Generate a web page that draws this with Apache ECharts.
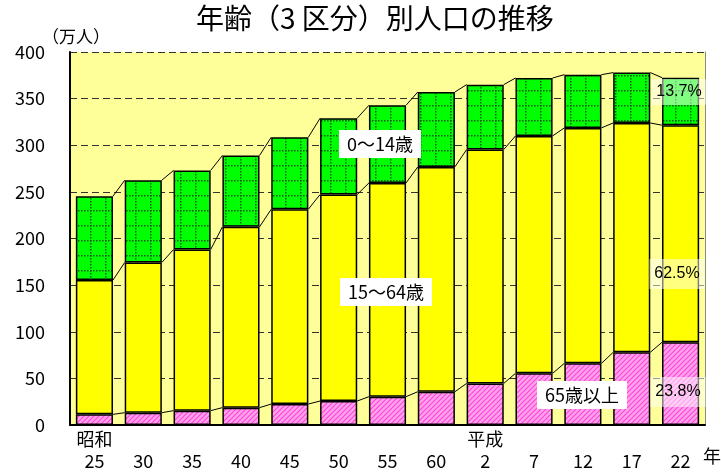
<!DOCTYPE html>
<html>
<head>
<meta charset="utf-8">
<script src="https://cdn.jsdelivr.net/npm/echarts@6/dist/echarts.min.js"></script>
<style>
  html, body { margin: 0; padding: 0; background: #fff; }
  #main { width: 721px; height: 474px; }
</style>
</head>
<body>
<div id="main"></div>
<script>
// 年齢（3区分）別人口（万人）
var categories = ['25', '30', '35', '40', '45', '50', '55', '60', '2', '7', '12', '17', '22'];
var eraLabels = ['昭和', '', '', '', '', '', '', '', '平成', '', '', '', ''];
var age65 = [11.4, 13.2, 15.4, 18.6, 22.5, 25.7, 30.4, 35.7, 44.6, 55.4, 66.1, 77.9, 88.7];
var age15to64 = [144.0, 161.1, 172.8, 193.9, 208.9, 221.5, 229.2, 241.1, 250.8, 254.6, 252.5, 246.0, 232.8];
var age0to14 = [90.0, 88.2, 84.8, 76.5, 77.2, 81.8, 83.3, 80.3, 69.6, 62.1, 57.1, 54.0, 51.0];
var yTicks = [0, 50, 100, 150, 200, 250, 300, 350, 400];

var FONT = '"Noto Sans CJK JP", sans-serif';

// 積み上げの境目（線でつなぐ用）
var lv1 = age65.slice();
var lv2 = age65.map(function (v, i) { return v + age15to64[i]; });
var lv3 = lv2.map(function (v, i) { return v + age0to14[i]; });
var last = categories.length - 1;
function pct(arr) { return (arr[last] / lv3[last] * 100).toFixed(1) + '%'; }

// 模様（緑：点線の格子、ピンク：斜線）
function greenPattern() {
  var c = document.createElement('canvas');
  c.width = 15; c.height = 15;
  var ctx = c.getContext('2d');
  ctx.fillStyle = '#00ff00';
  ctx.fillRect(0, 0, 15, 15);
  ctx.fillStyle = '#1a5a1a';
  for (var k = 0; k < 15; k += 3) {
    ctx.fillRect(k, 0, 1.5, 1.5);
    ctx.fillRect(0, k, 1.5, 1.5);
  }
  return c;
}
function pinkPattern() {
  var c = document.createElement('canvas');
  c.width = 5; c.height = 5;
  var ctx = c.getContext('2d');
  ctx.fillStyle = '#ffa3e8';
  ctx.fillRect(0, 0, 5, 5);
  ctx.strokeStyle = '#ff40e0';
  ctx.lineWidth = 1.1;
  ctx.beginPath();
  ctx.moveTo(-1, 6); ctx.lineTo(6, -1);
  ctx.moveTo(-1, 1); ctx.lineTo(1, -1);
  ctx.moveTo(4, 6); ctx.lineTo(6, 4);
  ctx.stroke();
  return c;
}

var myChart = echarts.init(document.getElementById('main'));

var barStyle = { borderColor: '#000', borderWidth: 1.5 };

var option = {
  animation: false,
  backgroundColor: '#fff',
  title: {
    text: '年齢（3 区分）別人口の推移',
    left: 196,
    top: 4,
    padding: 0,
    textStyle: { fontFamily: FONT, fontSize: 28, fontWeight: 'normal', color: '#000' }
  },
  grid: {
    left: 70, right: 16, top: 52, bottom: 49,
    show: true, backgroundColor: '#ffff99', borderWidth: 0
  },
  xAxis: {
    type: 'category',
    data: categories,
    axisLine: { lineStyle: { color: '#000', width: 2 } },
    axisTick: { show: false },
    axisLabel: {
      margin: 3,
      fontFamily: FONT,
      fontSize: 18,
      lineHeight: 22,
      color: '#000',
      interval: 0,
      formatter: function (v, i) { return eraLabels[i] + '\n' + v; }
    }
  },
  yAxis: [{
    type: 'value',
    min: yTicks[0],
    max: yTicks[yTicks.length - 1],
    interval: yTicks[1] - yTicks[0],
    axisLine: { show: true, lineStyle: { color: '#000', width: 2 } },
    axisTick: { show: false },
    axisLabel: { margin: 25, fontFamily: FONT, fontSize: 18, color: '#000' },
    splitLine: { show: true, lineStyle: { color: '#333', width: 1, type: [7, 4] } }
  }, {
    type: 'value',
    position: 'right',
    min: yTicks[0],
    max: yTicks[yTicks.length - 1],
    interval: yTicks[1] - yTicks[0],
    axisLine: { show: true, lineStyle: { color: '#888', width: 1 } },
    axisTick: { show: false },
    axisLabel: { show: false },
    splitLine: { show: false }
  }],
  series: [
    {
      name: '65歳以上', type: 'bar', stack: 'pop', barCategoryGap: '24%',
      data: age65,
      itemStyle: Object.assign({ color: { image: pinkPattern(), repeat: 'repeat' } }, barStyle)
    },
    {
      name: '15～64歳', type: 'bar', stack: 'pop', barCategoryGap: '24%',
      data: age15to64,
      itemStyle: Object.assign({ color: '#ffff00' }, barStyle)
    },
    {
      name: '0～14歳', type: 'bar', stack: 'pop', barCategoryGap: '24%',
      data: age0to14,
      itemStyle: Object.assign({ color: { image: greenPattern(), repeat: 'repeat' } }, barStyle)
    },
    {
      // 棒と棒をつなぐ線
      type: 'custom',
      silent: true,
      z: 5,
      data: categories.slice(0, -1).map(function (c, i) { return [i]; }),
      renderItem: function (params, api) {
        var i = api.value(0);
        var half = api.size([1, 0])[0] * 0.76 / 2;
        var children = [lv1, lv2, lv3].map(function (lv) {
          var a = api.coord([i, lv[i]]);
          var b = api.coord([i + 1, lv[i + 1]]);
          return {
            type: 'line',
            shape: { x1: a[0] + half, y1: a[1], x2: b[0] - half, y2: b[1] },
            style: { stroke: '#000', lineWidth: 1 }
          };
        });
        return { type: 'group', children: children };
      }
    }
  ],
  graphic: [
    { type: 'text', left: 42, top: 28, style: { text: '（万人）', font: '17px ' + FONT, fill: '#000' } },
    { type: 'text', x: 712, y: 456, style: { text: '年', font: '18px ' + FONT, fill: '#000', align: 'center', verticalAlign: 'middle' } },
    { type: 'text', x: 380, y: 144, z: 10, style: { text: '0～14歳', font: '18px ' + FONT, fill: '#000', align: 'center', verticalAlign: 'middle', backgroundColor: '#fff', padding: [5, 8] } },
    { type: 'text', x: 386, y: 292, z: 10, style: { text: '15～64歳', font: '18px ' + FONT, fill: '#000', align: 'center', verticalAlign: 'middle', backgroundColor: '#fff', padding: [5, 8] } },
    { type: 'text', x: 582, y: 395, z: 10, style: { text: '65歳以上', font: '18px ' + FONT, fill: '#000', align: 'center', verticalAlign: 'middle', backgroundColor: '#fff', padding: [5, 8] } },
    { type: 'text', x: 679, y: 92, z: 10, style: { text: pct(age0to14), font: '16px "Liberation Sans Narrow", sans-serif', fill: '#000', align: 'center', verticalAlign: 'middle', backgroundColor: 'rgba(255,255,255,0.5)', padding: [5, 5] } },
    { type: 'text', x: 677, y: 274, z: 10, style: { text: pct(age15to64), font: '16px "Liberation Sans Narrow", sans-serif', fill: '#000', align: 'center', verticalAlign: 'middle', backgroundColor: 'rgba(255,255,255,0.5)', padding: [7, 5] } },
    { type: 'text', x: 678, y: 392, z: 10, style: { text: pct(age65), font: '16px "Liberation Sans Narrow", sans-serif', fill: '#000', align: 'center', verticalAlign: 'middle', backgroundColor: 'rgba(255,255,255,0.5)', padding: [7, 5] } }
  ]
};

myChart.setOption(option);
</script>
</body>
</html>
